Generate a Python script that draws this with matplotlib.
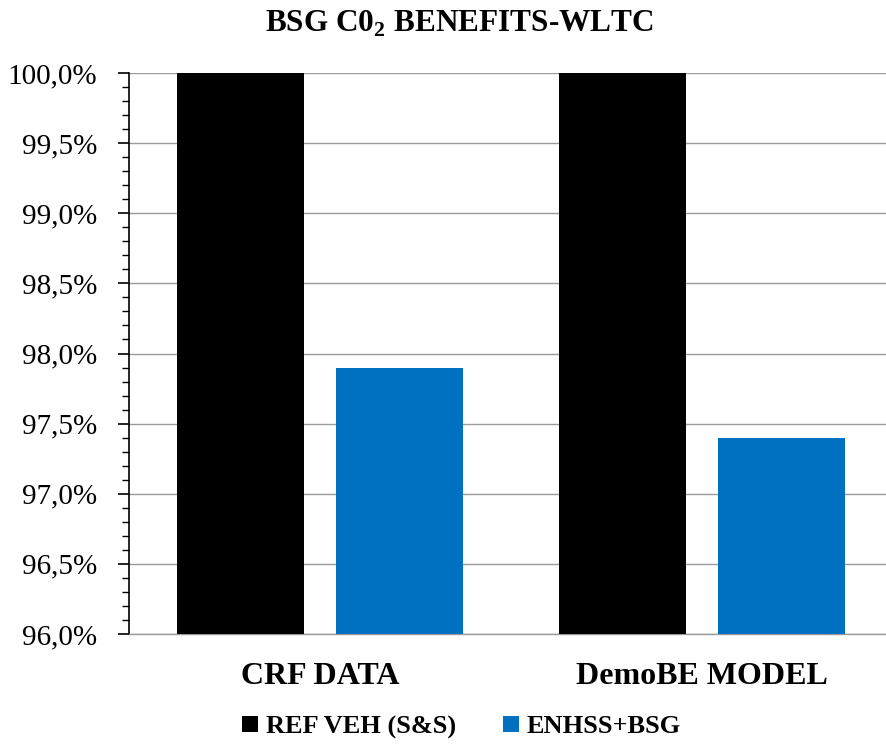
import matplotlib
matplotlib.use("Agg")
import matplotlib.pyplot as plt
from matplotlib.ticker import FuncFormatter, MultipleLocator
from matplotlib.patches import Patch

categories = ["CRF DATA", "DemoBE MODEL"]
ref_veh = [100.0, 100.0]
enhss_bsg = [97.9, 97.4]
series_names = ["REF VEH (S&S)", "ENHSS+BSG"]
colors = ["#000000", "#0070C0"]
y_ticks = [96.0, 96.5, 97.0, 97.5, 98.0, 98.5, 99.0, 99.5, 100.0]

plt.rcParams["font.family"] = ["Liberation Serif", "DejaVu Serif"]
plt.rcParams["mathtext.fontset"] = "custom"
plt.rcParams["mathtext.rm"] = "Liberation Serif:bold"
plt.rcParams["mathtext.bf"] = "Liberation Serif:bold"

W, H = 886, 745
fig = plt.figure(figsize=(W / 100, H / 100), dpi=100)
ax = fig.add_axes([129 / W, 111 / H, 764 / W, 561 / H])

x = list(range(len(categories)))
w = 0.333
off = 0.209
base = y_ticks[0]
ax.bar([i - off for i in x], [v - base for v in ref_veh], w, bottom=base,
       color=colors[0], zorder=3)
ax.bar([i + off for i in x], [v - base for v in enhss_bsg], w, bottom=base,
       color=colors[1], zorder=3)

ax.set_xlim(-0.5, len(categories) - 0.5)
ax.set_ylim(y_ticks[0], y_ticks[-1])
ax.set_yticks(y_ticks)
ax.yaxis.set_minor_locator(MultipleLocator(0.1))
ax.yaxis.set_major_formatter(FuncFormatter(lambda v, p: f"{v:.1f}%".replace(".", ",")))
ax.yaxis.grid(True, which="major", color="#9a9a9a", linewidth=1.0, zorder=0)
ax.tick_params(axis="y", which="major", length=8, width=1.2, labelsize=21, pad=15, color="black")
ax.tick_params(axis="y", which="minor", length=5, width=1.0, color="black")

ax.set_xticks(x)
ax.set_xticklabels(categories, fontsize=23, fontweight="bold")
ax.tick_params(axis="x", length=0, pad=20)

for s in ["top", "right"]:
    ax.spines[s].set_visible(False)
ax.spines["left"].set_color("black")
ax.spines["left"].set_linewidth(1.2)
ax.spines["bottom"].set_color("#9a9a9a")
ax.spines["bottom"].set_linewidth(1.0)

fig.text(0.518, 0.968, r"BSG C0$_{2}$ BENEFITS-WLTC", ha="center", va="center",
         fontsize=22.5, fontweight="bold")

handles = [Patch(facecolor=c) for c in colors]
fig.legend(handles, series_names, loc="center", bbox_to_anchor=(0.521, 0.024),
           ncol=2, frameon=False, prop={"size": 19, "weight": "bold"},
           handlelength=0.6, handleheight=0.6, handletextpad=0.3, columnspacing=1.8)

fig.savefig("out.png", dpi=100)
